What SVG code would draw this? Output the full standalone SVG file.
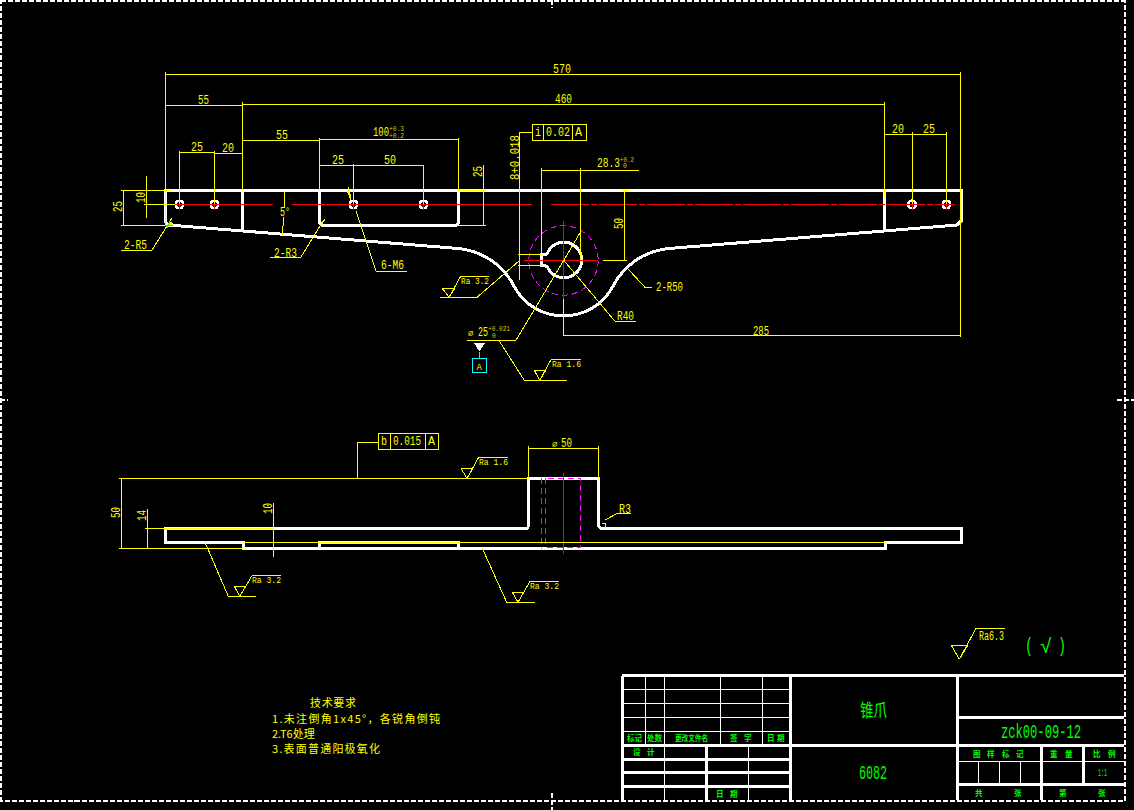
<svg xmlns="http://www.w3.org/2000/svg" width="1134" height="810" viewBox="0 0 1134 810">
<style>
line,path,polyline,rect,circle{fill:none;shape-rendering:crispEdges}
.w{stroke:#fff;stroke-width:3;stroke-linejoin:miter}
.tw{stroke:#fff;stroke-width:1}
.y{stroke:#ff0;stroke-width:1}
.r{stroke:#f00;stroke-width:1}
.m{stroke:#f0f;stroke-width:1;stroke-dasharray:6 4}
.f{stroke:#fff;stroke-width:2;stroke-dasharray:5 2}
.h{stroke:#fff;stroke-width:2.600}
text{font-family:"Liberation Mono","DejaVu Sans Mono",monospace;fill:#ff0;font-size:13px}
.cn{font-family:"Noto Sans CJK SC","Liberation Sans",sans-serif;fill:#ff0;font-size:11px}
.g{fill:#0f0}
.gc{font-family:"Noto Sans CJK SC",sans-serif;fill:#0f0;font-size:7.500px;font-weight:700}
.t{font-size:6.500px;fill:#cc0}
.ra{font-size:9px}
.sm{font-size:9px}
.gb{font-size:20px;fill:#0f0}
.par{font-size:20px;fill:#0f0}
</style>
<rect x="0" y="0" width="1134" height="810" style="fill:#000"/>

<g id="frame">
<rect class="f" x="1" y="1" width="1123.500" height="799.500"/>
<path class="f" d="M552 0V8M552 793V810M0 400H8M1117 400H1134"/>
</g>

<g id="top-view">
<path class="w" d="M165.500 190H961V221L957 225L884 231L669 248.500A70 70 0 0 0 612.700 286.700A56 56 0 0 1 514.300 286.700A70 70 0 0 0 458 248.500L243 231L168 225L165.500 222Z"/>
<path class="w" d="M242.500 190V231M884.500 190V231M319.500 190V223L322 225.500H456L458.500 223V190"/>
<path class="w" d="M547.500 253A17.800 17.800 0 1 1 547.500 267L545 265.500H541.500V254.800H545Z"/>
<circle cx="563.500" cy="260.500" r="34.700" class="m"/>
<g class="r">
<path d="M175 204.500H273M292 204.500H532"/>
<path d="M551 204.500H955" stroke-dasharray="38 2 6 2"/>
<path d="M524 260.500H598M563.500 221V299"/>
</g>
<g id="holes">
<circle class="h" cx="179.500" cy="204.500" r="3.800"/>
<circle class="h" cx="214.500" cy="204.500" r="3.800"/>
<circle class="h" cx="353.500" cy="204.500" r="3.800"/>
<circle class="h" cx="423.500" cy="204.500" r="3.800"/>
<circle class="h" cx="912" cy="204.500" r="3.800"/>
<circle class="h" cx="946.500" cy="204.500" r="3.800"/>
<path class="r" d="M179.500 199V210M214.500 199V210M353.500 199V210M423.500 199V210M912 199V210M946.500 199V210M174 204.500H220M348 204.500H359M418 204.500H429M906 204.500H918M941 204.500H952"/>
</g>
</g>

<g id="side-view">
<path class="w" d="M165 528.500H527L528.700 526V478.300H598.700V526L601 528.500H961V542H885V548.500H243V542H165Z"/>
<path class="w" d="M319.500 548V542H458.500V548"/>
<path class="m" d="M541.500 478V549M545.500 478V547H580.500V478H545.500"/>
<path class="r" d="M563.500 473V554"/>
</g>

<g id="dimensions">
<g class="y">
<path d="M165.500 72V225M960.500 72V337M165.500 74.500H960.500"/>
<path d="M165.500 105H242.500M242.500 102V190M242.500 104H884M884 102V197"/>
<path d="M179.500 151V204M214.500 151V204M179.500 152.500H214.500M214.500 153.500H242.500"/>
<path d="M242.500 140.500H319.500M319.500 138V190M319.500 139.500H458.500M458.500 138V190M319.500 165.500H423.500M353.500 164V204M423.500 165V204"/>
<path d="M483.500 165V225M458 190H486M458 225.500H486"/>
<path d="M884 134.500H946.500M912.300 132V204M946.500 132V204"/>
<path d="M121 190H172M121 225H165M123.500 190V225M146.500 176V218M144 204.500H175"/>
<path d="M284 191V208M284 217L282 235"/>
<path d="M172 218L152 250H121M348 187L351 198M356 211L376 271H407M323 221L301 257H270"/>
<path d="M519.500 132V280M519.500 132.300H532M518 254.300H541.500M518 265.300H541.500"/>
<path d="M541.500 168V255M580.500 168V260M541.500 170.500H639"/>
<path d="M624.500 190V260M622 190.500H629M603 260H627"/>
<path d="M467 340.300H516L580 233M499.300 341L524.300 380.300H566.700M539.700 380.300L534.300 370.300H545.700L539.700 380.300L551 359.700H581"/>
<path d="M440 297.300H477L519 261M449 297.300L442 288H455L449 297.300L460.700 276.300H489"/>
<path d="M563.500 260L615 321.300H635.700M628.300 269.300L645 287.300H651.700"/>
<path d="M563.500 299V336M563.500 335.700H960.500"/>
<rect x="532.500" y="124.500" width="53.500" height="16"/>
<path d="M543.500 124.500V140.500M572.500 124.500V140.500"/>
<path d="M119 478.300H528M119 548.300H243M121.500 478V548M145 528.500H273M147.500 509V548M273.500 503V557M243 542.300H885"/>
<rect x="378.500" y="433.500" width="60" height="16"/>
<path d="M390.500 433.500V449.500M425.500 433.500V449.500M378.500 442.300H357.500V478"/>
<path d="M528.500 446V478M598.500 446V478M528.500 448.300H598.500"/>
<path d="M467 478.300L461 468.300H473L467 478.300L478.700 457.300H508"/>
<path d="M605 520L616.700 513.700H630.700M602 524Q607 521 605 529"/>
<path d="M205 542.300L228.300 596.300H255.700M239.700 596.300L234.300 586.300H245.700L239.700 596.300L252 575.700H281"/>
<path d="M482.300 548.300L506.700 602.300H534.700M518 602.300L512.300 592.300H523.700L518 602.300L530 581.300H559"/>
<path d="M959.300 659.300L951.300 645.300H967.700L959.300 659.300L976 628.300H1005"/>
</g>
<path d="M167 226L171 222L173 224Z M320 225L325 219L322 224Z M351 200L347 190L349 190Z" style="fill:#ff0;stroke:#ff0"/>
<path d="M165 225H173M167 228L170 222" style="stroke:#0f0"/>
<path d="M474.300 343.300H484.700L479.300 351.700Z" style="fill:#fff"/>
<path d="M479.300 351.700V358.300" style="stroke:#0ff"/>
<rect x="472.500" y="358.500" width="14" height="14" style="stroke:#0ff"/>
</g>

<g id="labels">
<text x="553" y="73" textLength="18" lengthAdjust="spacingAndGlyphs">570</text>
<text x="198" y="104" textLength="11" lengthAdjust="spacingAndGlyphs">55</text>
<text x="555" y="103" textLength="17" lengthAdjust="spacingAndGlyphs">460</text>
<text x="191" y="151" textLength="12" lengthAdjust="spacingAndGlyphs">25</text>
<text x="222" y="152" textLength="12" lengthAdjust="spacingAndGlyphs">20</text>
<text x="276" y="139" textLength="12" lengthAdjust="spacingAndGlyphs">55</text>
<text x="373" y="136" textLength="16" lengthAdjust="spacingAndGlyphs">100</text>
<text class="t" x="389" y="130.500" textLength="15" lengthAdjust="spacingAndGlyphs">+0.3</text>
<text class="t" x="389" y="137.500" textLength="15" lengthAdjust="spacingAndGlyphs">+0.2</text>
<text x="332" y="164" textLength="12" lengthAdjust="spacingAndGlyphs">25</text>
<text x="384" y="164" textLength="12" lengthAdjust="spacingAndGlyphs">50</text>
<text x="892" y="133" textLength="12" lengthAdjust="spacingAndGlyphs">20</text>
<text x="923" y="133" textLength="12" lengthAdjust="spacingAndGlyphs">25</text>
<text transform="translate(482 177) rotate(-90)" textLength="11" lengthAdjust="spacingAndGlyphs">25</text>
<text transform="translate(122 212) rotate(-90)" textLength="11" lengthAdjust="spacingAndGlyphs">25</text>
<text transform="translate(145 203) rotate(-90)" textLength="11" lengthAdjust="spacingAndGlyphs">10</text>
<text x="280" y="216" textLength="10" lengthAdjust="spacingAndGlyphs">5°</text>
<text x="124" y="249" textLength="23" lengthAdjust="spacingAndGlyphs">2-R5</text>
<text x="274" y="256.500" textLength="23" lengthAdjust="spacingAndGlyphs">2-R3</text>
<text x="381" y="269" textLength="23" lengthAdjust="spacingAndGlyphs">6-M6</text>
<text transform="translate(518.500 180) rotate(-90)" textLength="45" lengthAdjust="spacingAndGlyphs">8+0.018</text>
<text x="535" y="136" textLength="6" lengthAdjust="spacingAndGlyphs">i</text>
<text x="546" y="136" textLength="24" lengthAdjust="spacingAndGlyphs">0.02</text>
<text x="575" y="136" textLength="7" lengthAdjust="spacingAndGlyphs">A</text>
<text x="597" y="167" textLength="23" lengthAdjust="spacingAndGlyphs">28.3</text>
<text class="t" x="620" y="161.500" textLength="14" lengthAdjust="spacingAndGlyphs">+0.2</text>
<text class="t" x="623" y="168">0</text>
<text transform="translate(623 229) rotate(-90)" textLength="11" lengthAdjust="spacingAndGlyphs">50</text>
<text class="ra" x="461" y="284" textLength="28" lengthAdjust="spacingAndGlyphs">Ra 3.2</text>
<text x="617" y="320" textLength="17" lengthAdjust="spacingAndGlyphs">R40</text>
<text x="656" y="291" textLength="27" lengthAdjust="spacingAndGlyphs">2-R50</text>
<text class="sm" x="468" y="336">⌀</text>
<text x="478" y="336" textLength="10" lengthAdjust="spacingAndGlyphs">25</text>
<text class="t" x="488" y="330.500" textLength="22" lengthAdjust="spacingAndGlyphs">+0.021</text>
<text class="t" x="492" y="337.500">0</text>
<text class="ra" x="552" y="367" textLength="29" lengthAdjust="spacingAndGlyphs">Ra 1.6</text>
<text x="753" y="335" textLength="16" lengthAdjust="spacingAndGlyphs">285</text>
<text class="sm" x="476.500" y="370">A</text>
<text transform="translate(120 518) rotate(-90)" textLength="11" lengthAdjust="spacingAndGlyphs">50</text>
<text transform="translate(146 521) rotate(-90)" textLength="11" lengthAdjust="spacingAndGlyphs">14</text>
<text transform="translate(272 514) rotate(-90)" textLength="11" lengthAdjust="spacingAndGlyphs">10</text>
<text x="381" y="445" textLength="6" lengthAdjust="spacingAndGlyphs">b</text>
<text x="393" y="445" textLength="28" lengthAdjust="spacingAndGlyphs">0.015</text>
<text x="428" y="445" textLength="7" lengthAdjust="spacingAndGlyphs">A</text>
<text class="ra" x="479" y="465" textLength="29" lengthAdjust="spacingAndGlyphs">Ra 1.6</text>
<text class="sm" x="552" y="447">⌀</text>
<text x="561" y="447" textLength="11" lengthAdjust="spacingAndGlyphs">50</text>
<text x="619" y="513" textLength="12" lengthAdjust="spacingAndGlyphs">R3</text>
<text class="ra" x="252" y="583" textLength="29" lengthAdjust="spacingAndGlyphs">Ra 3.2</text>
<text class="ra" x="530" y="589" textLength="29" lengthAdjust="spacingAndGlyphs">Ra 3.2</text>
<text x="979" y="640" textLength="25" lengthAdjust="spacingAndGlyphs">Ra6.3</text>
<text class="par" x="1025" y="652" textLength="8" lengthAdjust="spacingAndGlyphs">(</text>
<text class="par" x="1040" y="653" textLength="12" lengthAdjust="spacingAndGlyphs">√</text>
<text class="par" x="1058" y="652" textLength="8" lengthAdjust="spacingAndGlyphs">)</text>
</g>

<g id="notes">
<text class="cn" x="310" y="707" textLength="46">技术要求</text>
<text class="cn" x="272" y="723" textLength="168">1.未注倒角1x45°，各锐角倒钝</text>
<text class="cn" x="272" y="738">2.T6处理</text>
<text class="cn" x="272" y="753" textLength="108">3.表面普通阳极氧化</text>
</g>

<g id="title-block">
<path class="w" d="M622 675.500H1124M622 675.500V800M790.700 675.500V800M957.700 675.500V800M622 745.700H1124M957.700 717.700H1124M957.700 784.300H1124M622 759.300H790M622 772.700H790M622 786.300H790M706.300 745.700V800M1041 745.700V800M1083.300 745.700V784.300"/>
<path class="tw" d="M622 689.300H790M622 703.300H790M622 717.300H790M622 731.300H790M645.300 675.500V745.700M664.300 675.500V800M720.300 675.500V745.700M762.300 675.500V745.700M748.300 745.700V800M957.700 761.300H1124M978.300 761.300V784.300M999.300 761.300V784.300M1020.300 761.300V784.300"/>
<text class="gc" x="627" y="741">标记</text>
<text class="gc" x="647" y="741">处数</text>
<text class="gc" x="675" y="741" textLength="33" lengthAdjust="spacingAndGlyphs">更改文件名</text>
<text class="gc" x="730" y="741">签</text>
<text class="gc" x="744" y="741">字</text>
<text class="gc" x="767" y="741">日</text>
<text class="gc" x="777" y="741">期</text>
<text class="gc" x="633" y="755">设</text>
<text class="gc" x="647" y="755">计</text>
<text class="gc" x="716" y="797">日</text>
<text class="gc" x="730" y="797">期</text>
<text class="gc" x="973" y="757">图</text>
<text class="gc" x="987" y="757">样</text>
<text class="gc" x="1002" y="757">标</text>
<text class="gc" x="1016" y="757">记</text>
<text class="gc" x="1050" y="757">重</text>
<text class="gc" x="1065" y="757">量</text>
<text class="gc" x="1093" y="757">比</text>
<text class="gc" x="1108" y="757">例</text>
<text class="gc" x="975" y="796">共</text>
<text class="gc" x="1014" y="796">张</text>
<text class="gc" x="1059" y="796">第</text>
<text class="gc" x="1098" y="796">张</text>
<text class="g" x="1098" y="776" style="font-size:10px" textLength="9" lengthAdjust="spacingAndGlyphs">1:1</text>
<text class="gc" x="860" y="717" style="font-size:18px;font-weight:400" textLength="27" lengthAdjust="spacingAndGlyphs">锥爪</text>
<text class="gb" x="859" y="779" textLength="28" lengthAdjust="spacingAndGlyphs">6082</text>
<text class="gb" x="1001" y="738" textLength="80" lengthAdjust="spacingAndGlyphs">zck00-09-12</text>
</g>
</svg>
